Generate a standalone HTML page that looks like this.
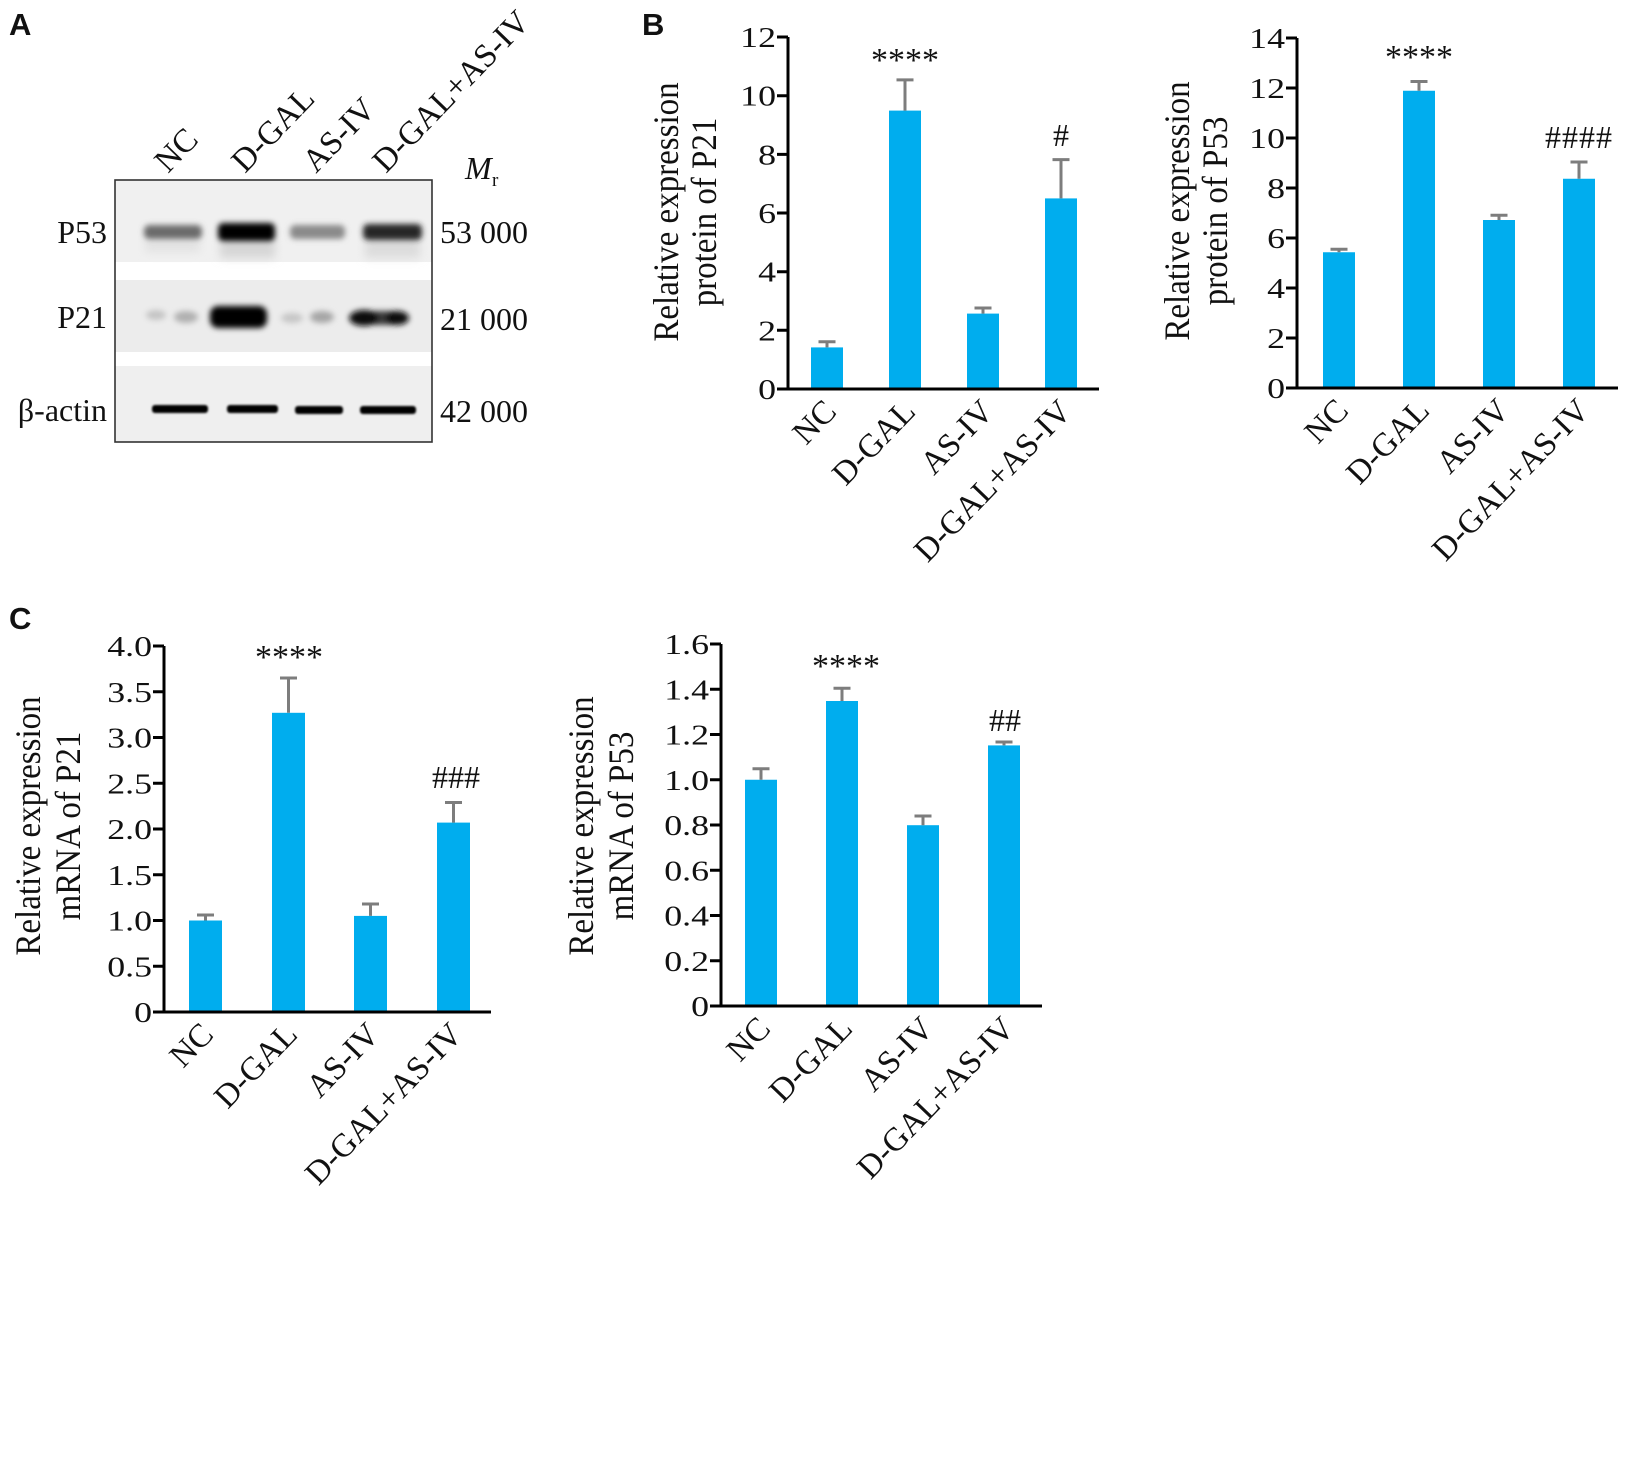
<!DOCTYPE html>
<html><head><meta charset="utf-8"><style>
html,body{margin:0;padding:0;background:#fff;}
svg{display:block;}
text{font-family:"Liberation Serif","Times New Roman",serif;fill:#111;}
.pl{font-family:"Liberation Sans",Arial,sans-serif;font-weight:bold;font-size:31px;}
.tk{font-size:28px;}
.cat{font-size:33px;}
.yl{font-size:33px;}
.ast{font-size:34px;}
.hs{font-size:32px;}
.bl{font-size:32px;}
</style></head><body>
<svg width="1631" height="1469" viewBox="0 0 1631 1469" xmlns="http://www.w3.org/2000/svg">
<defs>
<filter id="b3" x="-30%" y="-100%" width="160%" height="300%"><feGaussianBlur stdDeviation="3"/></filter>
<filter id="b4" x="-30%" y="-100%" width="160%" height="300%"><feGaussianBlur stdDeviation="4.5"/></filter>
<filter id="b1" x="-10%" y="-100%" width="120%" height="300%"><feGaussianBlur stdDeviation="1.1"/></filter>
</defs>
<rect width="1631" height="1469" fill="#fff"/>

<!-- Panel letters -->
<text class="pl" x="9" y="35">A</text>
<text class="pl" x="642" y="35">B</text>
<text class="pl" x="9" y="629">C</text>

<!-- ===== Panel A : western blot ===== -->
<g class="bl">
<text x="107" y="243" text-anchor="end">P53</text>
<text x="107" y="328" text-anchor="end">P21</text>
<text x="107" y="421" text-anchor="end">β-actin</text>
<text x="440" y="243">53 000</text>
<text x="440" y="330">21 000</text>
<text x="440" y="422">42 000</text>
</g>
<text x="465" y="179" style="font-size:32px;font-style:italic">M</text>
<text x="492" y="186" style="font-size:19px">r</text>
<g class="cat">
<text transform="translate(168,174) rotate(-46)">NC</text>
<text transform="translate(245,174) rotate(-46)">D-GAL</text>
<text transform="translate(316,174) rotate(-46)">AS-IV</text>
<text transform="translate(386,174) rotate(-46)">D-GAL+AS-IV</text>
</g>
<!-- strips -->
<rect x="115" y="180" width="317" height="82" fill="#f0f0f0"/>
<rect x="115" y="280" width="317" height="72" fill="#ececec"/>
<rect x="115" y="366" width="317" height="76" fill="#efefef"/>
<!-- P53 bands -->
<g filter="url(#b4)">
<rect x="220" y="238" width="55" height="20" fill="#d6d6d6"/>
<rect x="365" y="238" width="55" height="20" fill="#dcdcdc"/>
<rect x="145" y="238" width="55" height="14" fill="#e2e2e2"/>
</g>
<g filter="url(#b3)">
<rect x="144" y="225" width="58" height="14" rx="5" fill="#6c6c6c"/>
<rect x="218" y="223" width="57" height="18" rx="5" fill="#000"/>
<rect x="290" y="225" width="55" height="14" rx="5" fill="#8a8a8a"/>
<rect x="363" y="224" width="59" height="16" rx="5" fill="#262626"/>
</g>
<!-- P21 bands -->
<g filter="url(#b3)">
<ellipse cx="156" cy="315" rx="10" ry="5" fill="#c4c4c4"/>
<ellipse cx="186" cy="317" rx="12" ry="6" fill="#b0b0b0"/>
<rect x="210" y="306" width="57" height="22" rx="8" fill="#000"/>
<ellipse cx="292" cy="318" rx="11" ry="5" fill="#c6c6c6"/>
<ellipse cx="322" cy="317" rx="12" ry="6" fill="#a6a6a6"/>
<rect x="352" y="311" width="52" height="14" rx="6" fill="#3a3a3a"/>
<ellipse cx="364" cy="318" rx="15" ry="8" fill="#0a0a0a"/>
<ellipse cx="397" cy="318" rx="12" ry="7" fill="#111"/>
</g>
<!-- beta-actin bands -->
<g filter="url(#b1)">
<rect x="152" y="405" width="56" height="8" rx="3" fill="#000"/>
<rect x="227" y="405" width="51" height="8" rx="3" fill="#000"/>
<rect x="295" y="406" width="48" height="8" rx="3" fill="#000"/>
<rect x="360" y="406" width="56" height="8" rx="3" fill="#000"/>
</g>
<rect x="115" y="180" width="317" height="262" fill="none" stroke="#333" stroke-width="1.6"/>

<!-- ===== Panel B left : protein P21 ===== -->
<g fill="#00adee">
<rect x="811" y="347.4" width="32" height="41.6"/>
<rect x="889" y="110.6" width="32" height="278.4"/>
<rect x="967" y="313.6" width="32" height="75.4"/>
<rect x="1045" y="198.4" width="32" height="190.6"/>
</g>
<g stroke="#7d7d7d" stroke-width="3" fill="none">
<path d="M827 347.4V341.8M818.5 341.8H835.5"/>
<path d="M905 110.6V79.9M896.5 79.9H913.5"/>
<path d="M983 313.6V308M974.5 308H991.5"/>
<path d="M1061 198.4V159.6M1052.5 159.6H1069.5"/>
</g>
<g stroke="#000" stroke-width="3" fill="none">
<path d="M788 37V390.5M777 389H1099"/>
<path d="M777 37H788M777 95.7H788M777 154.4H788M777 213H788M777 271.7H788M777 330.3H788"/>
</g>
<g class="tk" text-anchor="end">
<text transform="translate(776,399) scale(1.28,1)">0</text>
<text transform="translate(776,340.3) scale(1.28,1)">2</text>
<text transform="translate(776,281.7) scale(1.28,1)">4</text>
<text transform="translate(776,223) scale(1.28,1)">6</text>
<text transform="translate(776,164.4) scale(1.28,1)">8</text>
<text transform="translate(776,105.7) scale(1.28,1)">10</text>
<text transform="translate(776,47) scale(1.28,1)">12</text>
</g>
<g class="cat" text-anchor="end">
<text transform="translate(838,413) rotate(-46)">NC</text>
<text transform="translate(917,413) rotate(-46)">D-GAL</text>
<text transform="translate(995,413) rotate(-46)">AS-IV</text>
<text transform="translate(1073,413) rotate(-46)">D-GAL+AS-IV</text>
</g>
<g class="yl" text-anchor="middle">
<text transform="translate(678,212) rotate(-90) scale(1,1.1)">Relative expression</text>
<text transform="translate(716,212) rotate(-90) scale(1,1.1)">protein of P21</text>
</g>
<text class="ast" x="905" y="71" text-anchor="middle">****</text>
<text class="hs" x="1061" y="146" text-anchor="middle">#</text>

<!-- ===== Panel B right : protein P53 ===== -->
<g fill="#00adee">
<rect x="1323" y="252.25" width="32" height="135.75"/>
<rect x="1403" y="90.75" width="32" height="297.25"/>
<rect x="1483" y="220" width="32" height="168"/>
<rect x="1563" y="178.75" width="32" height="209.25"/>
</g>
<g stroke="#7d7d7d" stroke-width="3" fill="none">
<path d="M1339 252.25V249.25M1330.5 249.25H1347.5"/>
<path d="M1419 90.75V81.5M1410.5 81.5H1427.5"/>
<path d="M1499 220V215.25M1490.5 215.25H1507.5"/>
<path d="M1579 178.75V162M1570.5 162H1587.5"/>
</g>
<g stroke="#000" stroke-width="3" fill="none">
<path d="M1297 38V389.5M1286 388H1618"/>
<path d="M1286 38H1297M1286 88H1297M1286 138H1297M1286 188H1297M1286 238H1297M1286 288H1297M1286 338H1297"/>
</g>
<g class="tk" text-anchor="end">
<text transform="translate(1285,398) scale(1.28,1)">0</text>
<text transform="translate(1285,348) scale(1.28,1)">2</text>
<text transform="translate(1285,298) scale(1.28,1)">4</text>
<text transform="translate(1285,248) scale(1.28,1)">6</text>
<text transform="translate(1285,198) scale(1.28,1)">8</text>
<text transform="translate(1285,148) scale(1.28,1)">10</text>
<text transform="translate(1285,98) scale(1.28,1)">12</text>
<text transform="translate(1285,48) scale(1.28,1)">14</text>
</g>
<g class="cat" text-anchor="end">
<text transform="translate(1350,412) rotate(-46)">NC</text>
<text transform="translate(1431,412) rotate(-46)">D-GAL</text>
<text transform="translate(1511,412) rotate(-46)">AS-IV</text>
<text transform="translate(1591,412) rotate(-46)">D-GAL+AS-IV</text>
</g>
<g class="yl" text-anchor="middle">
<text transform="translate(1189,211) rotate(-90) scale(1,1.1)">Relative expression</text>
<text transform="translate(1227,211) rotate(-90) scale(1,1.1)">protein of P53</text>
</g>
<text class="ast" x="1419" y="68" text-anchor="middle">****</text>
<text class="hs" x="1579" y="148" text-anchor="middle" letter-spacing="1">####</text>

<!-- ===== Panel C left : mRNA P21 ===== -->
<g fill="#00adee">
<rect x="189" y="920.5" width="33" height="91.5"/>
<rect x="272" y="712.8" width="33" height="299.2"/>
<rect x="354" y="915.9" width="33" height="96.1"/>
<rect x="437" y="822.6" width="33" height="189.4"/>
</g>
<g stroke="#7d7d7d" stroke-width="3" fill="none">
<path d="M205.5 920.5V915M197 915H214"/>
<path d="M288.5 712.8V678M280 678H297"/>
<path d="M370.5 915.9V904M362 904H379"/>
<path d="M453.5 822.6V802.5M445 802.5H462"/>
</g>
<g stroke="#000" stroke-width="3" fill="none">
<path d="M164 646V1013.5M153 1012H491"/>
<path d="M153 646H164M153 691.75H164M153 737.5H164M153 783.25H164M153 829H164M153 874.75H164M153 920.5H164M153 966.25H164"/>
</g>
<g class="tk" text-anchor="end">
<text transform="translate(152,1022) scale(1.28,1)">0</text>
<text transform="translate(152,976.25) scale(1.28,1)">0.5</text>
<text transform="translate(152,930.5) scale(1.28,1)">1.0</text>
<text transform="translate(152,884.75) scale(1.28,1)">1.5</text>
<text transform="translate(152,839) scale(1.28,1)">2.0</text>
<text transform="translate(152,793.25) scale(1.28,1)">2.5</text>
<text transform="translate(152,747.5) scale(1.28,1)">3.0</text>
<text transform="translate(152,701.75) scale(1.28,1)">3.5</text>
<text transform="translate(152,656) scale(1.28,1)">4.0</text>
</g>
<g class="cat" text-anchor="end">
<text transform="translate(215,1036) rotate(-46)">NC</text>
<text transform="translate(299,1036) rotate(-46)">D-GAL</text>
<text transform="translate(381,1036) rotate(-46)">AS-IV</text>
<text transform="translate(464,1036) rotate(-46)">D-GAL+AS-IV</text>
</g>
<g class="yl" text-anchor="middle">
<text transform="translate(40,826) rotate(-90) scale(1,1.1)">Relative expression</text>
<text transform="translate(80,826) rotate(-90) scale(1,1.1)">mRNA of P21</text>
</g>
<text class="ast" x="289" y="668" text-anchor="middle">****</text>
<text class="hs" x="456" y="788" text-anchor="middle">###</text>

<!-- ===== Panel C right : mRNA P53 ===== -->
<g fill="#00adee">
<rect x="745" y="779.75" width="32" height="226.25"/>
<rect x="826" y="701" width="32" height="305"/>
<rect x="907" y="825.2" width="32" height="180.8"/>
<rect x="988" y="745.4" width="32" height="260.6"/>
</g>
<g stroke="#7d7d7d" stroke-width="3" fill="none">
<path d="M761 779.75V768.7M752.5 768.7H769.5"/>
<path d="M842 701V688.3M833.5 688.3H850.5"/>
<path d="M923 825.2V816M914.5 816H931.5"/>
<path d="M1004 745.4V742M995.5 742H1012.5"/>
</g>
<g stroke="#000" stroke-width="3" fill="none">
<path d="M721 644V1007.5M710 1006H1042"/>
<path d="M710 644H721M710 689.25H721M710 734.5H721M710 779.75H721M710 825H721M710 870.25H721M710 915.5H721M710 960.75H721"/>
</g>
<g class="tk" text-anchor="end">
<text transform="translate(709,1016) scale(1.28,1)">0</text>
<text transform="translate(709,970.75) scale(1.28,1)">0.2</text>
<text transform="translate(709,925.5) scale(1.28,1)">0.4</text>
<text transform="translate(709,880.25) scale(1.28,1)">0.6</text>
<text transform="translate(709,835) scale(1.28,1)">0.8</text>
<text transform="translate(709,789.75) scale(1.28,1)">1.0</text>
<text transform="translate(709,744.5) scale(1.28,1)">1.2</text>
<text transform="translate(709,699.25) scale(1.28,1)">1.4</text>
<text transform="translate(709,654) scale(1.28,1)">1.6</text>
</g>
<g class="cat" text-anchor="end">
<text transform="translate(772,1030) rotate(-46)">NC</text>
<text transform="translate(854,1030) rotate(-46)">D-GAL</text>
<text transform="translate(935,1030) rotate(-46)">AS-IV</text>
<text transform="translate(1016,1030) rotate(-46)">D-GAL+AS-IV</text>
</g>
<g class="yl" text-anchor="middle">
<text transform="translate(593,826) rotate(-90) scale(1,1.1)">Relative expression</text>
<text transform="translate(633,826) rotate(-90) scale(1,1.1)">mRNA of P53</text>
</g>
<text class="ast" x="846" y="677" text-anchor="middle">****</text>
<text class="hs" x="1005" y="731" text-anchor="middle">##</text>
</svg>
</body></html>
